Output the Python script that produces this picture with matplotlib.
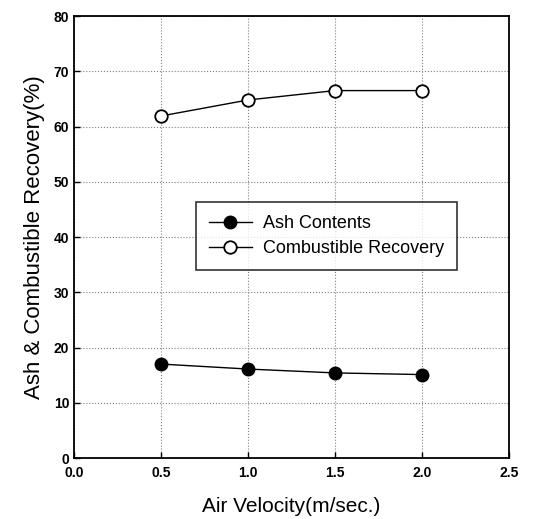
import matplotlib
matplotlib.use("Agg")
import matplotlib.pyplot as plt

velocity = [0.5, 1.0, 1.5, 2.0]
ash_contents = [17.0, 16.1, 15.4, 15.1]
combustible_recovery = [61.9, 64.8, 66.5, 66.5]

x_ticks = [0.0, 0.5, 1.0, 1.5, 2.0, 2.5]
y_ticks = [0, 10, 20, 30, 40, 50, 60, 70, 80]

plt.rcParams["font.family"] = ["Liberation Sans", "DejaVu Sans"]

fig = plt.figure(figsize=(5.4, 5.19), dpi=100)
ax = fig.add_axes([74 / 540, 1 - 458 / 519, 435 / 540, 442 / 519])

ax.plot(velocity, ash_contents, color="black", linewidth=1.0,
        marker="o", markersize=9, markerfacecolor="black",
        markeredgecolor="black", label="Ash Contents")
ax.plot(velocity, combustible_recovery, color="black", linewidth=1.0,
        marker="o", markersize=9, markerfacecolor="white",
        markeredgecolor="black", markeredgewidth=1.3,
        label="Combustible Recovery")

ax.set_xlim(0.0, 2.5)
ax.set_ylim(0, 80)
ax.set_xticks(x_ticks)
ax.set_xticklabels([f"{v:.1f}" for v in x_ticks])
ax.set_yticks(y_ticks)
ax.tick_params(direction="in", length=4, width=1, labelsize=10)
ax.tick_params(axis="x", pad=6)
for lbl in ax.get_xticklabels() + ax.get_yticklabels():
    lbl.set_fontweight("bold")

ax.grid(True, linestyle=":", color="gray", linewidth=0.8)
for sp in ax.spines.values():
    sp.set_linewidth(1.3)

ax.set_xlabel("Air Velocity(m/sec.)", fontsize=15, labelpad=12)
ax.set_ylabel("Ash & Combustible Recovery(%)", fontsize=16, labelpad=6)

leg = ax.legend(loc="upper left", bbox_to_anchor=(0.280, 0.579),
                borderaxespad=0, fontsize=13, frameon=True, fancybox=False,
                edgecolor="black", handlelength=2.4, borderpad=0.72,
                labelspacing=0.45, handletextpad=0.6)
leg.get_frame().set_linewidth(1.2)

fig.savefig("out.png", dpi=100)
